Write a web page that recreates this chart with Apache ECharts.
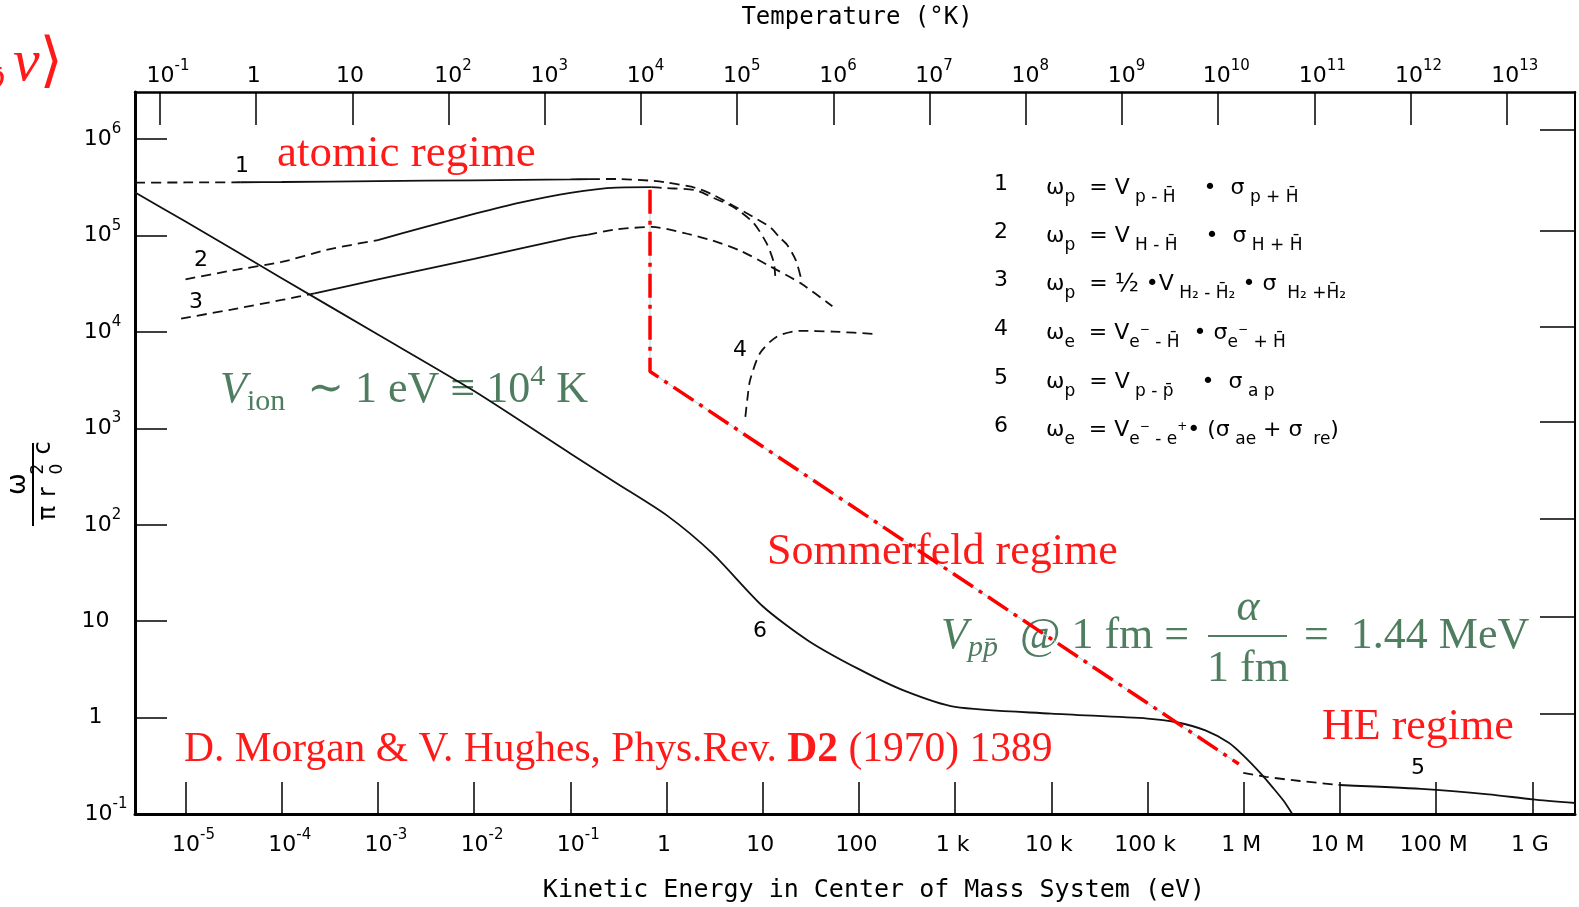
<!DOCTYPE html>
<html>
<head>
<meta charset="utf-8">
<title>annihilation rate vs kinetic energy</title>
<script src="https://cdn.jsdelivr.net/npm/echarts@6.0.0/dist/echarts.min.js"></script>
<style>
    html, body { margin: 0; padding: 0; background: #fff; }
    #chart { width: 1579px; height: 907px; }
</style>
</head>
<body>
<div id="chart"></div>
<script>
    // kinetic energy E (eV) and omega / (pi r0^2 c)
    // curve 1 (p - Hbar)
    var c1HeadE = [3e-6, 1e-5, 3.7e-5];
    var c1HeadW = [3.55e5, 3.56e5, 3.58e5];
    var c1BodyE = [3.7e-5, 1e-4, 1e-3, 1e-2, 0.1, 0.16];
    var c1BodyW = [3.58e5, 3.6e5, 3.68e5, 3.75e5, 3.83e5, 3.86e5];
    var c1TailE = [0.16, 0.3, 0.67, 1, 2, 3, 5, 8, 12, 15, 18, 22, 25, 25.5];
    var c1TailW = [3.86e5, 3.87e5, 3.72e5, 3.56e5, 3.13e5, 2.67e5, 2.03e5, 1.56e5, 1.22e5, 9.57e4, 8.0e4, 5.6e4, 3.64e4, 3.23e4];

    // curve 2 (H - Hbar)
    var c2HeadE = [1e-5, 3e-5, 1e-4, 3e-4, 1e-3];
    var c2HeadW = [3.52e4, 4.34e4, 5.33e4, 7.15e4, 9.0e4];
    var c2BodyE = [1e-3, 3e-3, 1e-2, 3e-2, 0.1, 0.3, 0.7];
    var c2BodyW = [9.0e4, 1.22e5, 1.68e5, 2.2e5, 2.78e5, 3.15e5, 3.18e5];
    var c2TailE = [0.7, 1, 2, 3, 5, 8, 11, 13, 13.5];
    var c2TailW = [3.18e5, 3.11e5, 2.96e5, 2.49e5, 1.97e5, 1.36e5, 8.3e4, 5.33e4, 3.82e4];

    // curve 3 (H2 - H2bar)
    var c3HeadE = [9e-6, 3e-5, 1e-4, 2.2e-4];
    var c3HeadW = [1.38e4, 1.71e4, 2.15e4, 2.52e4];
    var c3BodyE = [2.2e-4, 1e-3, 1e-2, 0.1, 0.15];
    var c3BodyW = [2.52e4, 3.51e4, 5.75e4, 9.55e4, 1.02e5];
    var c3TailE = [0.15, 0.3, 0.7, 1.5, 3, 6, 12, 25, 53];
    var c3TailW = [1.02e5, 1.16e5, 1.23e5, 1.07e5, 8.9e4, 6.9e4, 4.79e4, 3.19e4, 1.85e4];

    // curve 4 (e- - Hbar)
    var c4E = [6.6, 6.95, 7.4, 9.4, 14, 24, 54, 160];
    var c4W = [1.32e3, 2.07e3, 3.18e3, 6.07e3, 8.95e3, 1.03e4, 1.01e4, 9.5e3];

    // curve 5 (p - pbar)
    var c5HeadE = [9.9e5, 1.7e6, 3.85e6, 1e7];
    var c5HeadW = [0.267, 0.243, 0.220, 0.200];
    var c5BodyE = [1e7, 7e7, 3.5e8, 1e9, 2.8e9];
    var c5BodyW = [0.200, 0.182, 0.160, 0.142, 0.130];

    // curve 6 (e- - e+)
    var c6E = [3e-6, 1e-5, 1e-4, 1e-3, 1e-2, 0.1, 0.3, 1, 3, 10, 30, 100, 300, 1e3, 1e4, 1e5, 2e5, 4e5, 7e5, 1e6, 1.5e6, 2e6, 2.6e6, 3.2e6];
    var c6W = [2.8e5, 1.40e5, 3.62e4, 9.42e3, 2.44e3, 550, 272, 126, 50.5, 14.3, 6.25, 3.18, 1.89, 1.29, 1.10, 0.977, 0.895, 0.736, 0.547, 0.401, 0.264, 0.189, 0.137, 0.1];

    // red dash-dot guide (atomic -> Sommerfeld -> HE)
    var guideE = [0.674, 0.674, 8.9e5];
    var guideW = [3.0e5, 3.9e3, 0.33];

    // tick labels (exponent after ^)
    var energyTicks = [-5, -4, -3, -2, -1, 0, 1, 2, 3, 4, 5, 6, 7, 8, 9];
    var energyLabels = ['10^-5', '10^-4', '10^-3', '10^-2', '10^-1', '1', '10', '100', '1 k', '10 k', '100 k', '1 M', '10 M', '100 M', '1 G'];
    var tempTicks = [-1, 0, 1, 2, 3, 4, 5, 6, 7, 8, 9, 10, 11, 12, 13];
    var tempLabels = ['10^-1', '1', '10', '10^2', '10^3', '10^4', '10^5', '10^6', '10^7', '10^8', '10^9', '10^10', '10^11', '10^12', '10^13'];
    var omegaTicks = [-1, 0, 1, 2, 3, 4, 5, 6];
    var omegaLabels = ['10^-1', '1', '10', '10^2', '10^3', '10^4', '10^5', '10^6'];

    var eMin = -5.525, eMax = 9.444;   // log10(eV) at the frame edges
    var tShift = 4.265;                // log10(K) - log10(eV) of the top scale
    var wMin = -1, wMax = 6.49;

    var sans = '"DejaVu Sans", sans-serif';
    var mono = '"DejaVu Sans Mono", monospace';
    var serif = '"Liberation Serif", "DejaVu Serif", serif';
    var red = '#ff1a1a';
    var green = '#4f7d60';

    function toXY(E, W) {
        return E.map(function (e, i) { return [Math.log10(e), Math.log10(W[i])]; });
    }

    function tickText(s) {
        var p = s.split('^');
        if (p.length === 1) {
            return '{b0|' + s + '}{s| }';
        }
        return '{b' + p[1].length + '|' + p[0] + '}{s|' + p[1] + '}';
    }

    function labelFormatter(ticks, labels) {
        return function (v) {
            var i = ticks.indexOf(Math.round(v));
            return i < 0 ? '' : tickText(labels[i]);
        };
    }

    var tickRich = {
        b0: {fontSize: 22, fontFamily: sans, color: '#000'},
        b1: {fontSize: 22, fontFamily: sans, color: '#000', padding: [0, 0, 0, 9]},
        b2: {fontSize: 22, fontFamily: sans, color: '#000', padding: [0, 0, 0, 16]},
        s: {fontSize: 15, fontFamily: sans, color: '#000', padding: [0, 0, 20, 0]}
    };

    var solidStyle = {color: '#111', width: 1.8, type: 'solid'};
    var dashStyle = {color: '#111', width: 1.8, type: [10, 6]};

    function curve(E, W, style) {
        return {
            type: 'line',
            data: toXY(E, W),
            symbol: 'none',
            smooth: 0.25,
            lineStyle: style,
            silent: true,
            z: 3
        };
    }

    function $x(a, b) {
        return Object.assign({}, a, b);
    }

    function txt(x, y, text, style) {
        return {type: 'text', x: x, y: y, silent: true, style: Object.assign({text: text, fill: '#000', align: 'left', verticalAlign: 'middle'}, style)};
    }

    function buildGraphics() {
        var g = [];
        var legendRich = {
            m: {fontSize: 22, fontFamily: sans},
            s: {fontSize: 17, fontFamily: sans, padding: [20, 0, 0, 0]},
            u: {fontSize: 12, fontFamily: sans, padding: [0, 0, 6, 0]},
            f: {fontSize: 25, fontFamily: sans}
        };
        var legendRows = [
            ['1', '{m|ω}{s|p}{m|  = V}{s| p - H\u0304}{m|    •  σ}{s| p + H\u0304}'],
            ['2', '{m|ω}{s|p}{m|  = V}{s| H - H\u0304}{m|    •  σ}{s| H + H\u0304}'],
            ['3', '{m|ω}{s|p}{m|  = }{f|½}{m| •V}{s| H₂ - H\u0304₂}{m| • σ}{s|  H₂ +H\u0304₂}'],
            ['4', '{m|ω}{s|e}{m|  = V}{s|e}{u|−}{s| - H\u0304}{m|  • σ}{s|e}{u|−}{s| + H\u0304}'],
            ['5', '{m|ω}{s|p}{m|  = V}{s| p - p\u0304}{m|    •  σ}{s| a p}'],
            ['6', '{m|ω}{s|e}{m|  = V}{s|e}{u|−}{s| - e}{u|+}{m|• (σ}{s| ae}{m| + σ}{s|  re}{m|)}']
        ];
        var rowY = [184, 232, 280, 329, 378, 426];
        legendRows.forEach(function (r, i) {
            g.push(txt(994, rowY[i], r[0], {fontSize: 22, fontFamily: sans}));
            g.push(txt(1046, rowY[i] + 4, r[1], {rich: legendRich}));
        });

        // curve numbers
        [['1', 242, 166], ['2', 201, 260], ['3', 196, 302], ['4', 740, 350], ['5', 1418, 768], ['6', 760, 631]].forEach(function (n) {
            g.push(txt(n[1], n[2], n[0], {fontSize: 22, fontFamily: sans, align: 'center'}));
        });

        // axis titles
        g.push(txt(857, 18, 'Temperature (°K)', {fontSize: 24, fontFamily: mono, align: 'center'}));
        g.push(txt(874, 890, 'Kinetic Energy in Center of Mass System (eV)', {fontSize: 25, fontFamily: mono, align: 'center'}));

        // y axis title: omega / (pi r0^2 c), rotated
        g.push({
            type: 'group', x: 33, y: 484, rotation: Math.PI / 2, silent: true,
            children: [
                txt(0, -15, 'ω', {fontSize: 26, fontFamily: sans, align: 'center'}),
                {type: 'line', shape: {x1: -42, y1: 0, x2: 41, y2: 0}, style: {stroke: '#000', lineWidth: 2}},
                txt(-29, 16, 'π', {fontSize: 24, fontFamily: sans, align: 'center'}),
                txt(-8, 16, 'r', {fontSize: 24, fontFamily: sans, align: 'center'}),
                txt(15, 6, '2', {fontSize: 17, fontFamily: sans, align: 'center'}),
                txt(15, 25, '0', {fontSize: 17, fontFamily: sans, align: 'center'}),
                txt(36, 11, 'c', {fontSize: 24, fontFamily: sans, align: 'center'})
            ]
        });

        // red annotations
        g.push(txt(277, 154, 'atomic regime', {fontSize: 45, fontFamily: serif, fill: red}));
        g.push(txt(767, 552, 'Sommerfeld regime', {fontSize: 44, fontFamily: serif, fill: red}));
        g.push(txt(1322, 727, 'HE regime', {fontSize: 44, fontFamily: serif, fill: red}));
        g.push(txt(184, 750, '{r|D. Morgan & V. Hughes, Phys.Rev. }{b|D2}{r| (1970) 1389}', {
            fill: red,
            rich: {
                r: {fontSize: 41.5, fontFamily: serif},
                b: {fontSize: 41.5, fontFamily: serif, fontWeight: 'bold'}
            }
        }));
        g.push(txt(63, 64, '{t|⟨σ}{sub|p\u0304}{i|v}{t|⟩}', {
            fill: red, align: 'right',
            rich: {
                t: {fontSize: 60, fontFamily: serif},
                i: {fontSize: 60, fontFamily: serif, fontStyle: 'italic', padding: [0, 0, 0, 8]},
                sub: {fontSize: 38, fontFamily: serif, fontStyle: 'italic', padding: [30, 0, 0, 0]}
            }
        }));

        // green annotations
        var greenRich = {
            t: {fontSize: 44, fontFamily: serif},
            v: {fontSize: 44, fontFamily: serif, fontStyle: 'italic'},
            sub: {fontSize: 30, fontFamily: serif, padding: [24, 0, 0, 0]},
            isub: {fontSize: 30, fontFamily: serif, fontStyle: 'italic', padding: [24, 0, 0, 0]},
            sup: {fontSize: 30, fontFamily: serif, padding: [0, 0, 26, 0]}
        };
        g.push(txt(220, 390, '{v|V}{sub|ion}{t|  ∼ 1 eV ≡ 10}{sup|4}{t| K}', {fill: green, rich: greenRich}));
        g.push(txt(941, 636, '{v|V}{isub|pp\u0304}{t|  @ 1 fm =}', {fill: green, rich: greenRich}));
        g.push(txt(1248, 608, 'α', {fontSize: 44, fontFamily: serif, fontStyle: 'italic', fill: green, align: 'center'}));
        g.push({type: 'line', silent: true, shape: {x1: 1208, y1: 636, x2: 1287, y2: 636}, style: {stroke: green, lineWidth: 2}});
        g.push(txt(1248, 669, '1 fm', {fontSize: 44, fontFamily: serif, fill: green, align: 'center'}));
        g.push(txt(1304, 636, '=  1.44 MeV', {fontSize: 44, fontFamily: serif, fill: green}));
        return g;
    }

    var chart = echarts.init(document.getElementById('chart'), null, {renderer: 'canvas'});

    var axisBase = {
        type: 'value',
        splitLine: {show: false},
        axisLine: {show: true, onZero: false, lineStyle: {color: '#000', width: 2.5}},
        axisTick: {show: true, inside: true, length: 32, lineStyle: {color: '#000', width: 1.5}}
    };

    var option = {
        animation: false,
        backgroundColor: '#fff',
        grid: {left: 135, right: 4, top: 92, bottom: 93, containLabel: false, outerBoundsMode: 'none'},
        xAxis: [
            $x(axisBase, {
                position: 'bottom', min: eMin, max: eMax,
                axisLine: {show: true, onZero: false, lineStyle: {color: '#000', width: 3}},
                axisTick: {show: true, inside: true, length: 32, customValues: energyTicks, lineStyle: {color: '#000', width: 1.5}},
                axisLabel: {customValues: energyTicks, margin: 14, formatter: labelFormatter(energyTicks, energyLabels), rich: tickRich}
            }),
            $x(axisBase, {
                position: 'top', min: eMin + tShift, max: eMax + tShift,
                axisTick: {show: true, inside: true, length: 33, customValues: tempTicks, lineStyle: {color: '#000', width: 1.5}},
                axisLabel: {customValues: tempTicks, margin: -2, formatter: labelFormatter(tempTicks, tempLabels), rich: tickRich}
            })
        ],
        yAxis: [
            $x(axisBase, {
                position: 'left', min: wMin, max: wMax,
                axisLine: {show: true, onZero: false, lineStyle: {color: '#000', width: 3}},
                axisTick: {show: true, inside: true, length: 32, customValues: omegaTicks, lineStyle: {color: '#000', width: 1.5}},
                axisLabel: {customValues: omegaTicks, margin: 37, align: 'center', formatter: labelFormatter(omegaTicks, omegaLabels), rich: tickRich}
            }),
            $x(axisBase, {
                position: 'right', min: wMin, max: wMax,
                axisLine: {show: true, onZero: false, lineStyle: {color: '#000', width: 2}},
                axisTick: {show: true, inside: true, length: 35, customValues: [0.04, 1.05, 2.06, 3.07, 4.05, 5.05, 6.1], lineStyle: {color: '#000', width: 1.5}},
                axisLabel: {show: false}
            })
        ],
        series: [
            curve(c1HeadE, c1HeadW, dashStyle),
            curve(c1BodyE, c1BodyW, solidStyle),
            curve(c1TailE, c1TailW, dashStyle),
            curve(c2HeadE, c2HeadW, dashStyle),
            curve(c2BodyE, c2BodyW, solidStyle),
            curve(c2TailE, c2TailW, dashStyle),
            curve(c3HeadE, c3HeadW, dashStyle),
            curve(c3BodyE, c3BodyW, solidStyle),
            curve(c3TailE, c3TailW, dashStyle),
            curve(c4E, c4W, dashStyle),
            curve(c5HeadE, c5HeadW, dashStyle),
            curve(c5BodyE, c5BodyW, solidStyle),
            curve(c6E, c6W, solidStyle),
            {
                type: 'line', data: toXY(guideE, guideW), symbol: 'none', silent: true, z: 4,
                lineStyle: {color: '#a9dde6', width: 1}
            },
            {
                type: 'line', data: toXY(guideE, guideW), symbol: 'none', silent: true, z: 5,
                lineStyle: {color: '#ff0000', width: 3.5, type: [24, 7, 4, 7]}
            }
        ],
        graphic: buildGraphics()
    };

    chart.setOption(option);
</script>
</body>
</html>
